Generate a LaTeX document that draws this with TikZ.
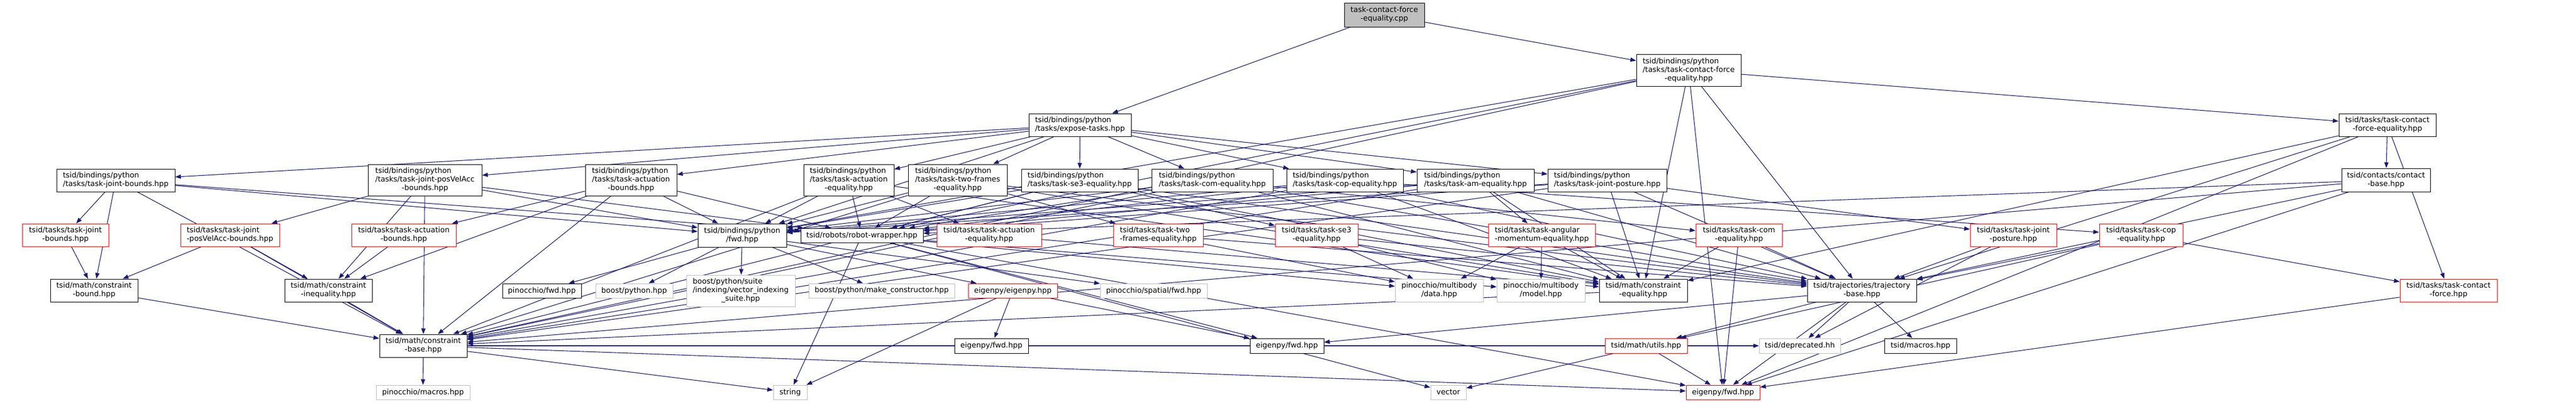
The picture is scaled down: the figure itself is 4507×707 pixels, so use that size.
\documentclass[tikz,border=0pt]{standalone}
\usepackage{fontspec}
\setmainfont{DejaVu Sans}
\usepackage{tikz}
\usetikzlibrary{arrows.meta,backgrounds}
\definecolor{edgeblue}{HTML}{191970}
\definecolor{sysgray}{HTML}{BFBFBF}
\newcommand{\lab}[2]{\begin{tabular}{@{}l@{}}#1\\\multicolumn{1}{@{}c@{}}{#2}\end{tabular}}

\begin{document}
\begin{tikzpicture}[x=0.75pt, y=-0.75pt,
    box/.style={draw=black, fill=white, line width=0.75pt, inner sep=0pt, font=\fontsize{9.75}{11.25}\selectfont},
    trunc/.style={box, draw=red},
    sys/.style={box, draw=sysgray},
    root/.style={box, fill=sysgray},
    wh/.style 2 args={minimum width=#1*0.75pt, minimum height=#2*0.75pt},
    edge/.style={draw=edgeblue, line width=0.8pt, -{Triangle[length=7.5pt, width=5.5pt]}}]
    \useasboundingbox (0,0) rectangle (4507,707);
    %File
    \node[root, wh={140}{42}] (cpp) at (2422,26) {\lab{task-contact-force}{-equality.cpp}};
    \node[box, wh={183}{56}] (pyTCFE) at (2954.5,123) {\lab{tsid/bindings/python\\/tasks/task-contact-force}{-equality.hpp}};
    \node[box, wh={179}{40}] (expose) at (1889.5,219) {\lab{tsid/bindings/python}{/tasks/expose-tasks.hpp}};
    \node[box, wh={170}{40}] (tTCFE) at (4177,219) {\lab{tsid/tasks/task-contact}{-force-equality.hpp}};
    %Python tasks
    \node[box, wh={207}{40}] (pyJB) at (202.5,316) {\lab{tsid/bindings/python}{/tasks/task-joint-bounds.hpp}};
    \node[box, wh={199}{55}] (pyJPVA) at (743.5,315.5) {\lab{tsid/bindings/python\\/tasks/task-joint-posVelAcc}{-bounds.hpp}};
    \node[box, wh={160}{55}] (pyAB) at (1104,315.5) {\lab{tsid/bindings/python\\/tasks/task-actuation}{-bounds.hpp}};
    \node[box, wh={158}{55}] (pyAE) at (1485,315.5) {\lab{tsid/bindings/python\\/tasks/task-actuation}{-equality.hpp}};
    \node[box, wh={173}{55}] (pyTF) at (1675.5,315.5) {\lab{tsid/bindings/python\\/tasks/task-two-frames}{-equality.hpp}};
    \node[box, wh={204}{40}] (pySE3) at (1889,316) {\lab{tsid/bindings/python}{/tasks/task-se3-equality.hpp}};
    \node[box, wh={212}{40}] (pyCOM) at (2121,316) {\lab{tsid/bindings/python}{/tasks/task-com-equality.hpp}};
    \node[box, wh={204}{40}] (pyCOP) at (2353,316) {\lab{tsid/bindings/python}{/tasks/task-cop-equality.hpp}};
    \node[box, wh={205}{40}] (pyAM) at (2581.5,316) {\lab{tsid/bindings/python}{/tasks/task-am-equality.hpp}};
    \node[box, wh={208}{40}] (pyJP) at (2812,316) {\lab{tsid/bindings/python}{/tasks/task-joint-posture.hpp}};
    \node[box, wh={155}{41}] (cb) at (4174.5,315.5) {\lab{tsid/contacts/contact}{-base.hpp}};
    %Tasks
    \node[trunc, wh={151}{40}] (tJB) at (114.5,412) {\lab{tsid/tasks/task-joint}{-bounds.hpp}};
    \node[trunc, wh={173}{40}] (tJPVA) at (402.5,412) {\lab{tsid/tasks/task-joint}{-posVelAcc-bounds.hpp}};
    \node[trunc, wh={183}{40}] (tAB) at (706.5,412) {\lab{tsid/tasks/task-actuation}{-bounds.hpp}};
    \node[box, wh={155}{41}] (pyfwd) at (1298.5,412.5) {\lab{tsid/bindings/python}{/fwd.hpp}};
    \node[box, wh={214}{25}] (rw) at (1508,412.5) {tsid/robots/robot-wrapper.hpp};
    \node[trunc, wh={183}{40}] (tAE) at (1730.5,412) {\lab{tsid/tasks/task-actuation}{-equality.hpp}};
    \node[trunc, wh={157}{40}] (tTF) at (2026.5,412) {\lab{tsid/tasks/task-two}{-frames-equality.hpp}};
    \node[trunc, wh={145}{40}] (tSE3) at (2303.5,412) {\lab{tsid/tasks/task-se3}{-equality.hpp}};
    \node[trunc, wh={187}{40}] (tAM) at (2697.5,412) {\lab{tsid/tasks/task-angular}{-momentum-equality.hpp}};
    \node[trunc, wh={151}{40}] (tCOM) at (3042.5,412) {\lab{tsid/tasks/task-com}{-equality.hpp}};
    \node[trunc, wh={151}{40}] (tJP) at (3522.5,412) {\lab{tsid/tasks/task-joint}{-posture.hpp}};
    \node[trunc, wh={146}{40}] (tCOP) at (3746,412) {\lab{tsid/tasks/task-cop}{-equality.hpp}};
    %Constraints and headers
    \node[box, wh={153}{40}] (cbound) at (164.5,509) {\lab{tsid/math/constraint}{-bound.hpp}};
    \node[box, wh={153}{40}] (cineq) at (574.5,509) {\lab{tsid/math/constraint}{-inequality.hpp}};
    \node[box, wh={138}{25}] (pinfwd) at (948,509.5) {pinocchio/fwd.hpp};
    \node[sys, wh={135}{25}] (bpy) at (1109.5,509.5) {boost/python.hpp};
    \node[sys, wh={190}{55}] (bvis) at (1296,509.5) {\lab{boost/python/suite\\/indexing/vector\_indexing}{\_suite.hpp}};
    \node[sys, wh={255}{25}] (bmc) at (1542.5,509.5) {boost/python/make\_constructor.hpp};
    \node[trunc, wh={156}{25}] (eigenpy) at (1772,509.5) {eigenpy/eigenpy.hpp};
    \node[sys, wh={187}{25}] (psf) at (2018.5,509.5) {pinocchio/spatial/fwd.hpp};
    \node[sys, wh={154}{40}] (pmd) at (2518,509) {\lab{pinocchio/multibody}{/data.hpp}};
    \node[sys, wh={154}{40}] (pmm) at (2696,509) {\lab{pinocchio/multibody}{/model.hpp}};
    \node[box, wh={154}{40}] (ceq) at (2875,509) {\lab{tsid/math/constraint}{-equality.hpp}};
    \node[box, wh={191}{40}] (traj) at (3257.5,509) {\lab{tsid/trajectories/trajectory}{-base.hpp}};
    \node[trunc, wh={170}{40}] (tCF) at (4284,509) {\lab{tsid/tasks/task-contact}{-force.hpp}};
    \node[box, wh={153}{40}] (cbase) at (740.5,606) {\lab{tsid/math/constraint}{-base.hpp}};
    \node[box, wh={129}{26}] (eigfwdA) at (1734.5,606) {eigenpy/fwd.hpp};
    \node[box, wh={129}{26}] (eigfwdB) at (2251.5,606) {eigenpy/fwd.hpp};
    \node[trunc, wh={144}{26}] (utils) at (2880,606) {tsid/math/utils.hpp};
    \node[sys, wh={142}{26}] (depr) at (3149,606) {tsid/deprecated.hh};
    \node[box, wh={126}{26}] (macros) at (3360,606) {tsid/macros.hpp};
    \node[sys, wh={164}{25}] (pmacros) at (740,687.5) {pinocchio/macros.hpp};
    \node[sys, wh={59}{25}] (string) at (1382.5,687.5) {string};
    \node[sys, wh={62}{25}] (vector) at (2534,687.5) {vector};
    \node[trunc, wh={129}{25}] (eigfwdR) at (3014.5,687.5) {eigenpy/fwd.hpp};
    %Includes
    \begin{scope}[on background layer]
    \foreach \a/\b in {cpp/pyTCFE, cpp/expose,
        pyTCFE/tTCFE, pyTCFE/pyfwd, pyTCFE/rw, pyTCFE/ceq, pyTCFE/cbase, pyTCFE/traj, pyTCFE/eigfwdR,
        expose/pyJB, expose/pyJPVA, expose/pyAB, expose/pyAE, expose/pyTF, expose/pySE3,
        expose/pyCOM, expose/pyCOP, expose/pyAM, expose/pyJP, expose/pyfwd,
        tTCFE/cb, tTCFE/tCF, tTCFE/ceq, tTCFE/traj, tTCFE/eigfwdR,
        cb/rw, cb/traj, cb/eigfwdR, cb/cbase, tCF/eigfwdR,
        pyJB/pyfwd, pyJB/rw, pyJB/tJB, pyJB/cbound, pyJB/cbase,
        pyJPVA/pyfwd, pyJPVA/rw, pyJPVA/tJPVA, pyJPVA/cineq, pyJPVA/cbase,
        pyAB/pyfwd, pyAB/rw, pyAB/tAB, pyAB/cineq, pyAB/cbase,
        pyAE/pyfwd, pyAE/rw, pyAE/tAE, pyAE/ceq, pyAE/cbase,
        pyTF/pyfwd, pyTF/rw, pyTF/tTF, pyTF/ceq, pyTF/cbase, pyTF/traj,
        pySE3/pyfwd, pySE3/rw, pySE3/tSE3, pySE3/ceq, pySE3/cbase, pySE3/traj,
        pyCOM/pyfwd, pyCOM/rw, pyCOM/tCOM, pyCOM/ceq, pyCOM/cbase, pyCOM/traj,
        pyCOP/pyfwd, pyCOP/rw, pyCOP/tCOP, pyCOP/ceq, pyCOP/cbase, pyCOP/traj,
        pyAM/pyfwd, pyAM/rw, pyAM/tAM, pyAM/ceq, pyAM/cbase, pyAM/traj,
        pyJP/pyfwd, pyJP/rw, pyJP/tJP, pyJP/ceq, pyJP/cbase, pyJP/traj,
        tJB/cbound, tJPVA/cbound, tJPVA/cineq, tJPVA/cbase, tAB/cineq,
        tAE/ceq, tTF/pmd, tTF/traj, tSE3/pmd, tSE3/pmm, tSE3/traj, tAM/pmd, tAM/pmm, tAM/ceq,
        tCOM/ceq, tCOM/traj, tCOM/eigfwdR, tJP/traj, tJP/depr, tCOP/traj, tCOP/tCF, tCOP/utils,
        pyfwd/pinfwd, pyfwd/bpy, pyfwd/bvis, pyfwd/bmc, pyfwd/eigenpy, pyfwd/psf,
        rw/pmd, rw/pmm, rw/string, rw/vector, rw/eigfwdB, rw/eigfwdR,
        eigenpy/eigfwdA, eigenpy/eigfwdB, eigenpy/string,
        cbound/cbase, cineq/cbase, ceq/cbase,
        cbase/pmacros, cbase/string, cbase/eigfwdR, cbase/depr,
        traj/utils, traj/depr, traj/macros, traj/eigfwdR, traj/eigfwdB,
        utils/vector, utils/eigfwdR}
        \draw[edge] (\a) -- (\b);
    \end{scope}
\end{tikzpicture}
\end{document}
